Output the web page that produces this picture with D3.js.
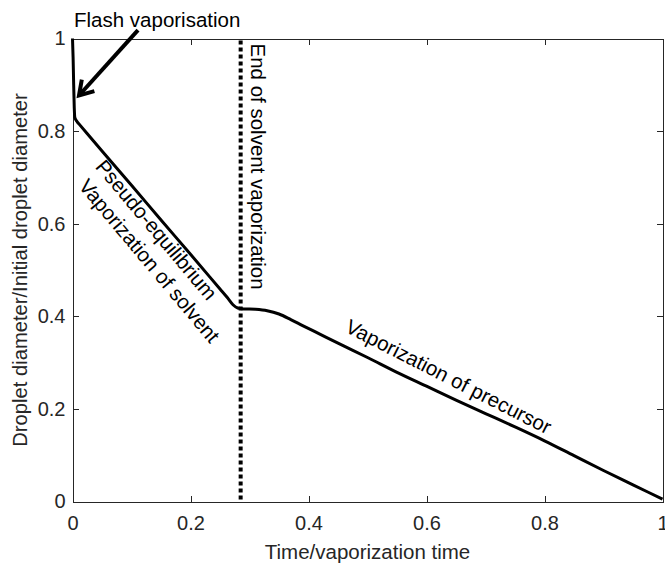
<!DOCTYPE html>
<html>
<head>
<meta charset="utf-8">
<script src="https://cdn.jsdelivr.net/npm/d3@7"></script>
<style>
  body { margin: 0; background: #fff; }
  svg { display: block; font-family: "Liberation Sans", Arial, sans-serif; }
</style>
</head>
<body>
<div id="vis"></div>
<script>
var width = 665,
    height = 566,
    margin = {top: 38.5, right: 2.5, bottom: 64.5, left: 72.5};

// normalised time and normalised droplet diameter
var timeVals = [0, 0.001, 0.002, 0.003, 0.004, 0.008, 0.012, 0.05, 0.1, 0.15, 0.2, 0.25,
                0.262, 0.272, 0.28, 0.29, 0.31, 0.33, 0.35, 0.37, 0.39, 0.42, 0.45, 0.5,
                0.55, 0.6, 0.65, 0.7, 0.75, 0.8, 0.85, 0.9, 0.95, 1];
var diamVals = [1, 0.96, 0.9, 0.85, 0.829, 0.82, 0.814, 0.757, 0.683, 0.608, 0.534, 0.459,
                0.441, 0.425, 0.418, 0.416, 0.415, 0.412, 0.405, 0.393, 0.38, 0.361, 0.342, 0.311,
                0.279, 0.249, 0.219, 0.19, 0.161, 0.131, 0.099, 0.067, 0.036, 0.005];

var solventEnd = 0.285;
var xTicks = [0, 0.2, 0.4, 0.6, 0.8, 1];
var yTicks = [0, 0.2, 0.4, 0.6, 0.8, 1];

var x = d3.scaleLinear().domain([0, 1]).range([margin.left, width - margin.right]);
var y = d3.scaleLinear().domain([0, 1]).range([height - margin.bottom, margin.top]);
var fmt = d3.format("~g");

var svg = d3.select("#vis").append("svg")
    .attr("width", width)
    .attr("height", height);

// axes, ticks pointing inward, box closed on top and right
function styleAxis(g) {
    g.select(".domain").attr("stroke", "#262626");
    g.selectAll(".tick line").attr("stroke", "#262626");
    g.selectAll(".tick text").attr("fill", "#262626").attr("font-size", 20);
}

svg.append("g")
    .attr("transform", "translate(0," + y(0) + ")")
    .call(d3.axisBottom(x).tickValues(xTicks).tickFormat(fmt).tickSize(-6).tickPadding(14))
    .call(styleAxis);
svg.append("g")
    .attr("transform", "translate(" + x(0) + ",0)")
    .call(d3.axisLeft(y).tickValues(yTicks).tickFormat(fmt).tickSize(-6).tickPadding(7))
    .call(styleAxis);
svg.append("g")
    .attr("transform", "translate(0," + y(1) + ")")
    .call(d3.axisTop(x).tickValues(xTicks).tickFormat("").tickSize(-6))
    .call(styleAxis);
svg.append("g")
    .attr("transform", "translate(" + x(1) + ",0)")
    .call(d3.axisRight(y).tickValues(yTicks).tickFormat("").tickSize(-6))
    .call(styleAxis);

svg.selectAll(".domain, .tick line").attr("shape-rendering", "crispEdges");

// end of solvent vaporisation marker
svg.append("line")
    .attr("x1", x(solventEnd)).attr("x2", x(solventEnd))
    .attr("y1", y(1) + 2).attr("y2", y(0))
    .attr("stroke", "#000")
    .attr("stroke-width", 4)
    .attr("stroke-dasharray", "4,3");

// the curve
var line = d3.line()
    .x(function(d, i) { return x(timeVals[i]); })
    .y(function(d) { return y(d); })
    .curve(d3.curveMonotoneX);

svg.append("path")
    .datum(diamVals)
    .attr("d", line)
    .attr("fill", "none")
    .attr("stroke", "#000")
    .attr("stroke-width", 3)
    .attr("stroke-linejoin", "round");

// titles
svg.append("text")
    .attr("x", (x(0) + x(1)) / 2)
    .attr("y", 559)
    .attr("text-anchor", "middle")
    .attr("font-size", 20.5)
    .attr("fill", "#262626")
    .text("Time/vaporization time");

svg.append("text")
    .attr("transform", "translate(27," + (y(0) + y(1)) / 2 + ") rotate(-90)")
    .attr("text-anchor", "middle")
    .attr("font-size", 20.2)
    .attr("fill", "#262626")
    .text("Droplet diameter/Initial droplet diameter");

// annotations
svg.append("text")
    .attr("x", 74)
    .attr("y", 26.5)
    .attr("font-size", 20.5)
    .text("Flash vaporisation");

var arrowFrom = [x(0.111), y(1.018)],
    arrowTo = [x(0.011), y(0.877)];
var ang = Math.atan2(arrowFrom[1] - arrowTo[1], arrowFrom[0] - arrowTo[0]),
    headLen = 16, headAng = 32 * Math.PI / 180;

svg.append("line")
    .attr("x1", arrowFrom[0]).attr("y1", arrowFrom[1])
    .attr("x2", arrowTo[0] + 3 * Math.cos(ang)).attr("y2", arrowTo[1] + 3 * Math.sin(ang))
    .attr("stroke", "#000")
    .attr("stroke-width", 4);
svg.append("path")
    .attr("d", "M" + (arrowTo[0] + headLen * Math.cos(ang - headAng)) + "," + (arrowTo[1] + headLen * Math.sin(ang - headAng)) +
               "L" + arrowTo[0] + "," + arrowTo[1] +
               "L" + (arrowTo[0] + headLen * Math.cos(ang + headAng)) + "," + (arrowTo[1] + headLen * Math.sin(ang + headAng)))
    .attr("fill", "none")
    .attr("stroke", "#000")
    .attr("stroke-width", 4)
    .attr("stroke-linejoin", "miter");

svg.append("text")
    .attr("transform", "translate(" + (x(solventEnd) + 10.5) + "," + (y(1) + 5) + ") rotate(90)")
    .attr("font-size", 20.5)
    .text("End of solvent vaporization");

svg.append("text")
    .attr("transform", "translate(" + x(0.133) + "," + y(0.577) + ") rotate(50)")
    .attr("text-anchor", "middle")
    .attr("font-size", 20.5)
    .text("Pseudo-equilibrium");

svg.append("text")
    .attr("transform", "translate(" + x(0.121) + "," + y(0.51) + ") rotate(50)")
    .attr("text-anchor", "middle")
    .attr("font-size", 20.5)
    .text("Vaporization of solvent");

svg.append("text")
    .attr("transform", "translate(" + x(0.632) + "," + y(0.256) + ") rotate(27)")
    .attr("text-anchor", "middle")
    .attr("font-size", 20.5)
    .text("Vaporization of precursor");
</script>
</body>
</html>
